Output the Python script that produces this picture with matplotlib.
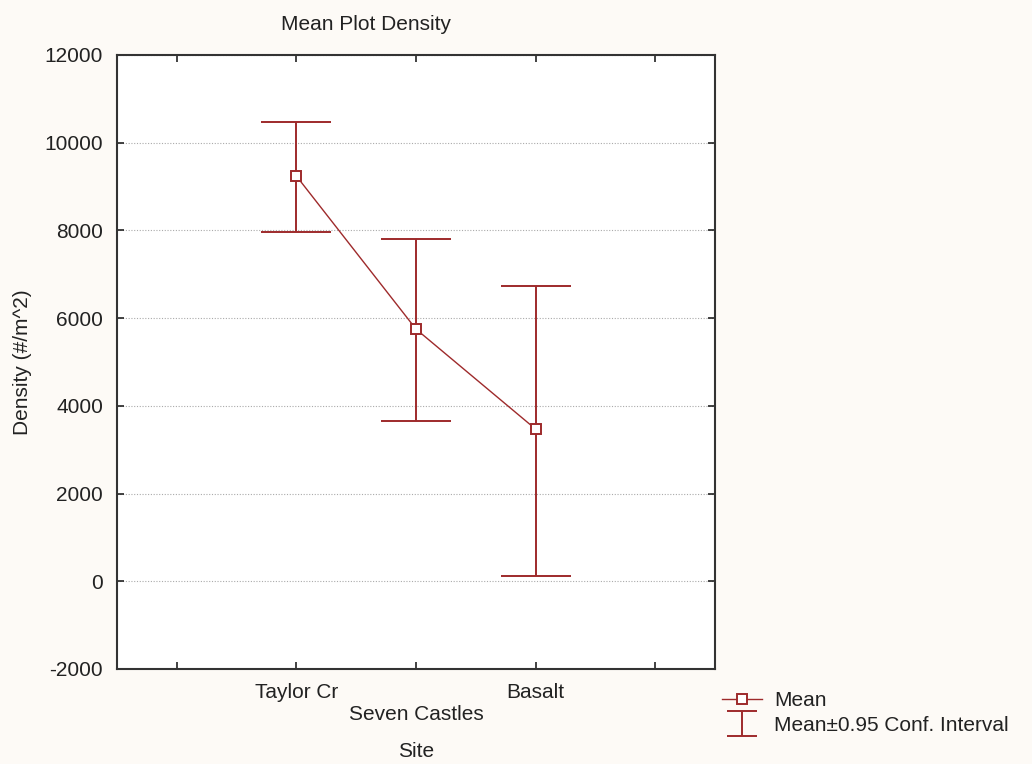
import numpy as np
import matplotlib
matplotlib.use("Agg")
import matplotlib.pyplot as plt
from matplotlib.lines import Line2D
from matplotlib.container import ErrorbarContainer
from matplotlib.legend_handler import HandlerErrorbar

# Data
sites = ["Taylor Cr", "Seven Castles", "Basalt"]
means = np.array([9240, 5750, 3470])
ci_low = np.array([7970, 3660, 120])
ci_high = np.array([10480, 7810, 6740])

red = "#9e2a2b"
plt.rcParams["font.family"] = ["Liberation Sans", "DejaVu Sans"]
plt.rcParams["font.size"] = 15
plt.rcParams["axes.unicode_minus"] = False

fig = plt.figure(figsize=(10.32, 7.64), dpi=100, facecolor="#fdfaf6")
ax = fig.add_axes([117 / 1032, 1 - 669 / 764, (715 - 117) / 1032, (669 - 55) / 764])
ax.set_facecolor("white")

x = np.arange(1, len(sites) + 1)
eb = ax.errorbar(x, means, yerr=[means - ci_low, ci_high - means], fmt="none",
                 ecolor=red, elinewidth=1.4, capsize=25, capthick=1.4,
                 label="Mean\u00b10.95 Conf. Interval", zorder=3)
ln, = ax.plot(x, means, color=red, lw=1, marker="s", markersize=7,
              mfc="white", mec=red, mew=1.4, label="Mean", zorder=4)

ax.set_xlim(-0.5, 4.5)
ax.set_ylim(-2000, 12000)
ax.set_yticks(np.arange(-2000, 12001, 2000))
ax.set_xticks(np.arange(0, 5))
xlabels = ["", sites[0], "\n" + sites[1], sites[2], ""]
ax.set_xticklabels(xlabels)
ax.yaxis.grid(True, linestyle=(0, (1, 1.5)), color="#aaaaaa", lw=0.8)
ax.set_axisbelow(True)

ax.tick_params(direction="in", length=5, width=1.2, top=True, right=True,
               labelsize=15, colors="#222222")
ax.tick_params(axis="y", pad=10)
ax.tick_params(axis="x", pad=10)
for s in ax.spines.values():
    s.set_linewidth(1.5)
    s.set_color("#333333")

ax.set_xlabel("Site", fontsize=15, labelpad=13, color="#222222")
ax.set_ylabel("Density (#/m^2)", fontsize=15, labelpad=9, color="#222222")
fig.text(366 / 1032, 1 - 25 / 764, "Mean Plot Density", ha="center",
         va="center", fontsize=15, color="#222222")


def small_caps(legend_handle, orig_handle):
    legend_handle.update_from(orig_handle)
    if isinstance(legend_handle, Line2D):
        legend_handle.set_markersize(22)


fig.legend(handles=[ln, eb], loc="upper left", bbox_to_anchor=(722 / 1032, 1 - 691 / 764),
           frameon=False, fontsize=15, handlelength=1.9, handletextpad=0.6,
           labelspacing=0.3, borderaxespad=0, borderpad=0, labelcolor="#222222",
           handler_map={ErrorbarContainer: HandlerErrorbar(yerr_size=0.6,
                                                           update_func=small_caps)})

fig.savefig("out.png", dpi=100, facecolor=fig.get_facecolor())
